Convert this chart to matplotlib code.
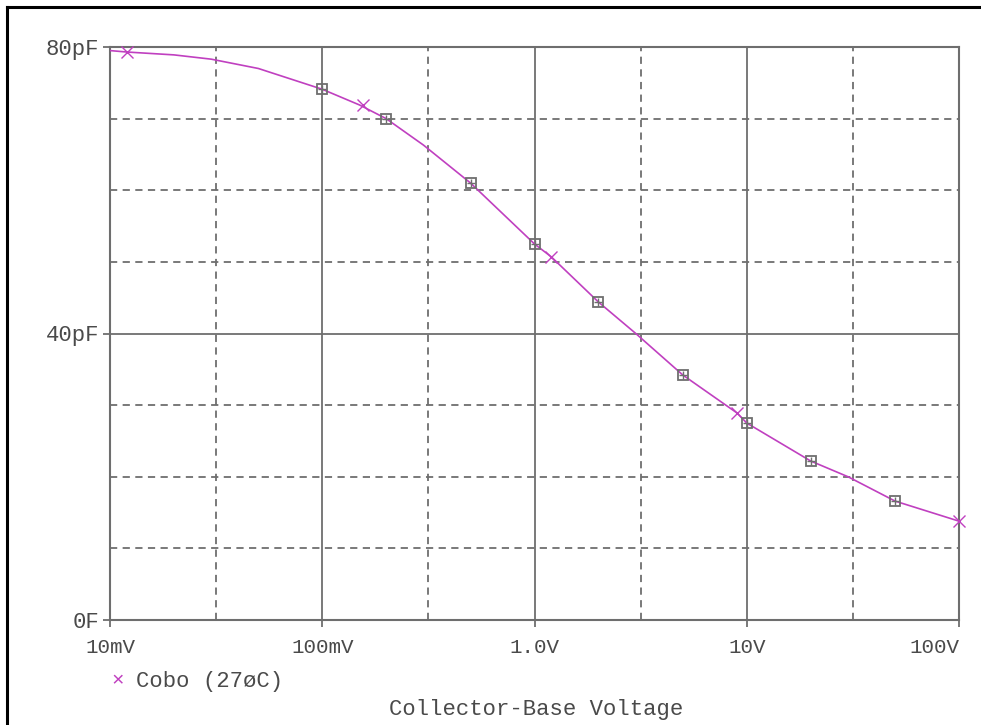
import numpy as np
import matplotlib.pyplot as plt
from matplotlib.lines import Line2D
from matplotlib.ticker import FixedLocator, NullFormatter

# curve (V, pF)
volts = [0.01, 0.012, 0.02, 0.03, 0.05, 0.1, 0.15, 0.2, 0.3, 0.5, 1.0, 1.2,
         2.0, 3.0, 5.0, 9.0, 10.0, 20.0, 30.0, 50.0, 100.0]
cobo = [79.5, 79.3, 78.9, 78.3, 77.0, 74.1, 71.9, 70.0, 66.3, 61.0, 52.5, 50.7,
        44.4, 40.0, 34.2, 28.9, 27.5, 22.2, 20.0, 16.6, 13.8]

# gray square data points
pt_v = [0.1, 0.2, 0.5, 1.0, 2.0, 5.0, 10.0, 20.0, 50.0]
pt_c = [74.1, 70.0, 61.0, 52.5, 44.4, 34.2, 27.5, 22.2, 16.6]

# magenta trace markers
mk_v = [0.012, 0.155, 1.2, 9.0, 100.0]
mk_c = [79.3, 71.9, 50.7, 28.9, 13.8]

xticks = [0.01, 0.1, 1.0, 10.0, 100.0]
xlabels = ["10mV", "100mV", "1.0V", "10V", "100V"]
yticks = [0, 40, 80]
ylabels = ["0F", "40pF", "80pF"]

gray = "#6e6e6e"
txt = "#4a4a4a"
mag = "#c040c0"
font = "Liberation Mono"

fig = plt.figure(figsize=(9.81, 7.25), dpi=100)
ax = fig.add_axes([110/981, 1-620/725, (959-110)/981, (620-47)/725])

ax.plot(volts, cobo, color=mag, lw=1.2, zorder=3)
ax.plot(mk_v, mk_c, ls="none", marker="x", ms=9, mew=1.0, color=mag, zorder=4, clip_on=False)
ax.plot(pt_v, pt_c, ls="none", marker="s", ms=7, mfc="none", mec=gray, mew=1.3, zorder=5)
ax.plot(pt_v, pt_c, ls="none", marker="+", ms=6, mec=gray, mew=1.0, zorder=5)

ax.set_xscale("log")
ax.set_xlim(0.01, 100)
ax.set_ylim(0, 80)

ax.set_xticks(xticks)
ax.set_xticklabels(xlabels)
ax.xaxis.set_minor_locator(FixedLocator([0.01*np.sqrt(10)*10**k for k in range(4)]))
ax.xaxis.set_minor_formatter(NullFormatter())
ax.set_yticks(yticks)
ax.set_yticklabels(ylabels)
ax.yaxis.set_minor_locator(FixedLocator([10, 20, 30, 50, 60, 70]))

ax.grid(which="major", color=gray, lw=1.3, ls="-")
ax.grid(which="minor", color=gray, lw=1.3, ls=(0, (4, 3)))
ax.set_axisbelow(True)

ax.tick_params(which="major", direction="out", length=5, width=1.3, color=gray,
               labelcolor=txt)
ax.tick_params(axis="x", labelsize=15, pad=8)
ax.tick_params(axis="y", labelsize=16, pad=3)
ax.tick_params(which="minor", length=0)
for lab in ax.get_xticklabels() + ax.get_yticklabels():
    lab.set_fontfamily(font)
# last x label sits left of its tick so it stays inside the image
ax.get_xticklabels()[-1].set_horizontalalignment("right")
for s in ax.spines.values():
    s.set_color(gray)
    s.set_linewidth(1.5)

# legend and axis title
fig.text(118/981, 1-681/725, "\u00d7", color=mag, fontsize=15, family=font, va="center", ha="center")
fig.text(136/981, 1-681/725, "Cobo (27øC)", color=txt, fontsize=16, family=font, va="center")
fig.text(536/981, 1-709/725, "Collector-Base Voltage", color=txt, fontsize=16,
         family=font, va="center", ha="center")

# black frame on top and left
fig.add_artist(Line2D([7/981, 7/981], [0, 1-7/725], color="black", lw=2.2))
fig.add_artist(Line2D([7/981, 1], [1-7/725, 1-7/725], color="black", lw=2.2))

fig.savefig("out.png", dpi=100)
